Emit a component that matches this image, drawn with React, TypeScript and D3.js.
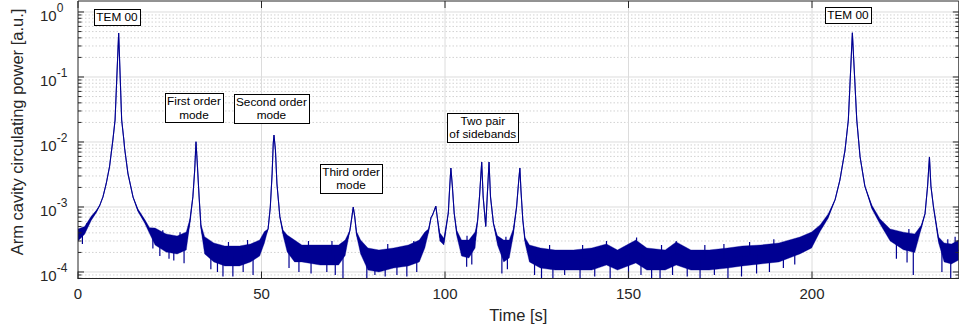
import * as d3 from 'd3'
import { useRef, useEffect } from 'react'

const W = 959, H = 333
const M = { top: 1, right: 0.2, bottom: 54.5, left: 78 }
const FONT = 'Liberation Sans, Arial, sans-serif'
const INK = '#262626'
const BLUE = '#000092'

const xDomain = [0, 240]
const xTicks = [0, 50, 100, 150, 200]
const yDomain = [Math.pow(10, -4.1), Math.pow(10, 0.169)]
const yDecades = [-4, -3, -2, -1, 0]

// trace: [time s, lower edge, upper edge] in a.u.
const trace = [
  [0, 3.0e-4, 4.6e-4], [1.8, 3.8e-4, 5.0e-4], [3.6, 6.2e-4, 7.2e-4], [5.0, 8.2e-4, 8.9e-4],
  [5.9, 1.05e-3, 1.05e-3], [6.8, 1.43e-3, 1.43e-3], [7.7, 2.3e-3, 2.3e-3], [8.6, 4.2e-3, 4.2e-3],
  [9.5, 0.0107, 0.0107], [10.1, 0.0218, 0.0218], [11.08, 0.475, 0.475], [11.9, 0.0218, 0.0218],
  [12.5, 0.0107, 0.0107], [12.7, 8.0e-3, 8.0e-3], [13.6, 3.3e-3, 3.3e-3], [15.0, 1.42e-3, 1.42e-3],
  [16.3, 8.6e-4, 9.4e-4], [18.2, 5.6e-4, 6.4e-4], [19.5, 3.9e-4, 4.8e-4], [21, 2.6e-4, 4.75e-4],
  [24, 2.03e-4, 3.85e-4], [27, 1.89e-4, 3.58e-4], [29.5, 2.18e-4, 4.12e-4], [30.5, 5.6e-4, 6.6e-4],
  [31.3, 1.43e-3, 1.43e-3], [31.8, 3.7e-3, 3.7e-3], [32.15, 0.0101, 0.0101], [32.5, 4.7e-3, 4.7e-3],
  [33.0, 1.43e-3, 1.43e-3], [33.5, 4.6e-4, 5.4e-4], [34.5, 1.9e-4, 3.5e-4], [37, 1.43e-4, 2.8e-4],
  [40, 1.24e-4, 2.51e-4], [44, 1.24e-4, 2.51e-4], [47, 1.43e-4, 2.7e-4], [49.5, 1.76e-4, 3.1e-4],
  [50.8, 2.8e-4, 4.2e-4], [51.8, 4.6e-4, 4.6e-4], [52.4, 1.0e-3, 1.0e-3], [52.9, 3.3e-3, 3.3e-3],
  [53.2, 9.5e-3, 9.5e-3], [53.4, 0.0128, 0.0128], [53.8, 7.5e-3, 7.5e-3], [54.2, 2.3e-3, 2.3e-3],
  [55.0, 7.1e-4, 7.1e-4], [55.9, 3.6e-4, 4.4e-4], [57, 2.03e-4, 3.7e-4], [59, 1.43e-4, 3.1e-4],
  [61, 1.43e-4, 2.6e-4], [66, 1.28e-4, 2.6e-4], [71, 1.28e-4, 2.6e-4], [72.8, 1.8e-4, 3.1e-4],
  [74.1, 4.4e-4, 4.4e-4], [74.7, 7.5e-4, 7.5e-4], [75.0, 1.0e-3, 1.0e-3], [75.4, 7.1e-4, 7.1e-4],
  [75.9, 3.6e-4, 4.2e-4], [77, 1.9e-4, 3.1e-4], [79, 1.07e-4, 2.34e-4], [82, 1.0e-4, 2.18e-4],
  [86, 1.15e-4, 2.34e-4], [90, 1.24e-4, 2.6e-4], [93, 1.43e-4, 3.1e-4], [94.5, 2.34e-4, 4.12e-4],
  [95.5, 4.0e-4, 4.6e-4], [96.2, 6.9e-4, 6.9e-4], [96.6, 7.5e-4, 7.5e-4], [97.5, 1.03e-3, 1.03e-3],
  [97.9, 6.9e-4, 6.9e-4], [98.6, 3.0e-4, 4.0e-4], [99.7, 2.6e-4, 3.3e-4], [100.9, 8.1e-4, 8.1e-4],
  [101.3, 2.1e-3, 2.1e-3], [101.6, 3.98e-3, 3.98e-3], [102.0, 2.1e-3, 2.1e-3], [102.5, 8.1e-4, 8.1e-4],
  [103.2, 3.6e-4, 4.4e-4], [104.5, 1.76e-4, 3.1e-4], [106.5, 1.64e-4, 3.1e-4], [108.2, 2.34e-4, 4.12e-4],
  [108.9, 6.3e-4, 6.3e-4], [109.4, 1.43e-3, 1.43e-3], [110.0, 4.92e-3, 4.92e-3], [110.4, 1.43e-3, 1.43e-3],
  [111.1, 5.0e-4, 5.0e-4], [111.5, 1.43e-3, 1.43e-3], [112.0, 4.92e-3, 4.92e-3], [112.4, 1.43e-3, 1.43e-3],
  [113.2, 5.6e-4, 5.6e-4], [114.3, 2.6e-4, 3.6e-4], [116, 1.43e-4, 3.1e-4], [117.5, 1.64e-4, 3.1e-4],
  [118.6, 3.6e-4, 4.6e-4], [119.5, 1.0e-3, 1.0e-3], [120.1, 2.6e-3, 2.6e-3], [120.4, 3.98e-3, 3.98e-3],
  [120.7, 1.8e-3, 1.8e-3], [121.2, 6.3e-4, 6.3e-4], [121.8, 2.8e-4, 3.4e-4], [123, 1.43e-4, 2.6e-4],
  [126, 1.15e-4, 2.34e-4], [130, 1.07e-4, 2.18e-4], [135, 1.07e-4, 2.18e-4], [140, 1.07e-4, 2.34e-4],
  [144, 1.28e-4, 2.7e-4], [147, 1.07e-4, 2.18e-4], [152, 1.38e-4, 3.1e-4], [155, 1.07e-4, 2.34e-4],
  [160, 1.07e-4, 2.18e-4], [163, 1.28e-4, 2.9e-4], [167, 1.07e-4, 2.18e-4], [172, 1.07e-4, 2.18e-4],
  [177, 1.15e-4, 2.34e-4], [181, 1.24e-4, 2.51e-4], [186, 1.33e-4, 2.6e-4], [191, 1.43e-4, 2.8e-4],
  [196.7, 1.9e-4, 3.45e-4], [199.9, 2.34e-4, 4.12e-4], [202.2, 4.2e-4, 5.3e-4], [204.4, 6.7e-4, 7.8e-4],
  [206.3, 1.3e-3, 1.3e-3], [207.6, 2.6e-3, 2.6e-3], [209.0, 7.5e-3, 7.5e-3], [209.9, 0.0218, 0.0218],
  [211.0, 0.48, 0.48], [212.2, 0.0218, 0.0218], [213.1, 5.9e-3, 5.9e-3], [214.4, 2.1e-3, 2.1e-3],
  [216.3, 9.4e-4, 1.07e-3], [218.5, 5.5e-4, 6.6e-4], [221.3, 3.0e-4, 4.6e-4], [224.9, 2.2e-4, 4.1e-4],
  [228, 2.0e-4, 3.85e-4], [229.8, 4.7e-4, 5.3e-4], [230.8, 7.9e-4, 7.9e-4], [231.5, 2.1e-3, 2.1e-3],
  [232.0, 5.88e-3, 5.88e-3], [232.4, 2.1e-3, 2.1e-3], [233.1, 1.0e-3, 1.0e-3], [234.5, 2.8e-4, 3.45e-4],
  [236, 1.43e-4, 2.8e-4], [238, 1.33e-4, 2.7e-4], [240, 1.53e-4, 3.1e-4],
]

// single noise spikes seen in the picture: [time s, value]
const dips = [
  [1.2, 2.7e-4], [20.4, 2.3e-4], [22.3, 1.76e-4], [24.8, 1.6e-4], [26.1, 1.5e-4], [28.9, 1.36e-4],
  [36.2, 1.1e-4], [38.0, 1.0e-4], [39.5, 8.5e-5], [42.2, 8.5e-5], [45.0, 1.0e-4], [47.7, 9.0e-5],
  [57.5, 1.15e-4], [60.2, 1.0e-4], [63.5, 9.5e-5], [67.8, 1.0e-4], [70.1, 9.0e-5], [72.2, 8.1e-5],
  [78.7, 8.1e-5], [80.9, 9.0e-5], [83.7, 8.5e-5], [86.9, 9.0e-5], [89.6, 8.5e-5], [92.3, 1.0e-4],
  [105.9, 1.2e-4], [107.3, 1.3e-4], [115.5, 9.5e-5], [117.0, 1.1e-4], [124.4, 9.0e-5], [126.3, 8.1e-5],
  [129.4, 8.1e-5], [132.6, 9.0e-5], [136.8, 8.1e-5], [140.8, 8.5e-5], [145, 8.1e-5], [150, 8.1e-5],
  [153.4, 9.0e-5], [156.3, 8.1e-5], [158.6, 8.1e-5], [162.0, 9.0e-5], [166.0, 8.5e-5], [169.5, 8.1e-5],
  [173.4, 9.0e-5], [177.1, 8.1e-5], [180.8, 8.5e-5], [184.9, 9.5e-5], [188.4, 1.0e-4], [192.2, 1.15e-4],
  [195.3, 1.3e-4], [223.0, 1.6e-4], [225.9, 1.4e-4], [227.6, 9.0e-5], [235.4, 1.0e-4], [237.8, 8.1e-5],
]
const bumps = [
  [2.4, 5.6e-4], [23.1, 4.4e-4], [27.8, 4.1e-4], [41.0, 2.9e-4], [46.2, 3.1e-4], [62.8, 3.0e-4],
  [69.2, 3.0e-4], [84.4, 2.7e-4], [91.5, 3.0e-4], [106.0, 3.6e-4], [116.6, 3.5e-4], [128.5, 2.6e-4],
  [137.5, 2.6e-4], [144, 3.0e-4], [152.2, 3.4e-4], [159.0, 2.6e-4], [163, 3.0e-4], [170.8, 2.6e-4],
  [176.0, 2.7e-4], [183.0, 2.9e-4], [189.6, 3.2e-4], [226.4, 4.6e-4], [237.0, 3.2e-4], [239.0, 3.5e-4],
]

const notes = [
  { lines: ['TEM 00'], t: 10.63, v: 0.838 },
  { lines: ['First order', 'mode'], t: 31.6, v: 0.0334 },
  { lines: ['Second order', 'mode'], t: 52.7, v: 0.0328 },
  { lines: ['Third order', 'mode'], t: 74.4, v: 2.77e-3 },
  { lines: ['Two pair', 'of sidebands'], t: 110.3, v: 0.0167 },
  { lines: ['TEM 00'], t: 209.8, v: 0.9 },
]

export default function App() {
  const svgRef = useRef(null)

  useEffect(() => {
    document.body.style.margin = '0'
    const svg = d3.select(svgRef.current)
    svg.selectAll('*').remove()

    const x0 = M.left, x1 = W - M.right, y0 = H - M.bottom, y1 = M.top
    const x = d3.scaleLinear().domain(xDomain).range([x0, x1])
    const y = d3.scaleLog().domain(yDomain).range([y0, y1])

    svg.append('defs').append('clipPath').attr('id', 'plot')
      .append('rect').attr('x', x0).attr('y', y1).attr('width', x1 - x0).attr('height', y0 - y1)

    // grid
    const minor = []
    for (let d = -5; d <= 0; d++) for (let k = 2; k <= 9; k++) {
      const v = k * Math.pow(10, d)
      if (v > yDomain[0] && v < yDomain[1]) minor.push(v)
    }
    const grid = svg.append('g')
    grid.selectAll('.mi').data(minor).join('line')
      .attr('x1', x0).attr('x2', x1).attr('y1', d => y(d)).attr('y2', d => y(d))
      .attr('stroke', '#d2d2d2').attr('stroke-width', 1).attr('stroke-dasharray', '1.5,2')
    grid.selectAll('.ma').data(yDecades).join('line')
      .attr('x1', x0).attr('x2', x1).attr('y1', d => y(Math.pow(10, d))).attr('y2', d => y(Math.pow(10, d)))
      .attr('stroke', '#dcdcdc').attr('stroke-width', 1)
    grid.selectAll('.vx').data(xTicks.slice(1)).join('line')
      .attr('x1', d => x(d)).attr('x2', d => x(d)).attr('y1', y0).attr('y2', y1)
      .attr('stroke', '#dcdcdc').attr('stroke-width', 1)

    // trace: noise band + line through its middle
    const plot = svg.append('g').attr('clip-path', 'url(#plot)')
    const mid = d => Math.sqrt(d[1] * d[2])
    plot.append('path').datum(trace)
      .attr('d', d3.area().x(d => x(d[0])).y0(d => y(d[1])).y1(d => y(d[2])))
      .attr('fill', BLUE).attr('stroke', BLUE).attr('stroke-width', 0.6).attr('stroke-opacity', 0.6)
    plot.append('path').datum(trace)
      .attr('d', d3.line().x(d => x(d[0])).y(d => y(mid(d))))
      .attr('fill', 'none').attr('stroke', BLUE).attr('stroke-width', 1.1)

    const bis = d3.bisector(d => d[0]).left
    const midAt = t => {
      const i = Math.max(1, bis(trace, t))
      const a = trace[i - 1], b = trace[i]
      const f = (t - a[0]) / (b[0] - a[0])
      return Math.exp(Math.log(mid(a)) * (1 - f) + Math.log(mid(b)) * f)
    }
    plot.selectAll('.dip').data(dips.concat(bumps)).join('line')
      .attr('x1', d => x(d[0])).attr('x2', d => x(d[0]))
      .attr('y1', d => y(midAt(d[0]))).attr('y2', d => y(d[1]))
      .attr('stroke', BLUE).attr('stroke-width', 1.2)

    // box
    svg.append('line').attr('x1', x0).attr('x2', x1).attr('y1', 1).attr('y2', 1).attr('stroke', INK)
    svg.append('line').attr('x1', x1).attr('x2', x1).attr('y1', y1).attr('y2', y0).attr('stroke', INK)
    svg.append('line').attr('x1', x0 - 0.5).attr('x2', x1).attr('y1', y0).attr('y2', y0).attr('stroke', INK)
    svg.append('line').attr('x1', x0).attr('x2', x0).attr('y1', y1).attr('y2', y0).attr('stroke', INK)

    // ticks
    const ax = svg.append('g').attr('stroke', INK).attr('stroke-width', 1)
    yDecades.forEach(d => {
      const yy = y(Math.pow(10, d))
      ax.append('line').attr('x1', x0).attr('x2', x0 + 6).attr('y1', yy).attr('y2', yy)
      ax.append('line').attr('x1', x1).attr('x2', x1 - 6).attr('y1', yy).attr('y2', yy)
    })
    minor.forEach(v => {
      ax.append('line').attr('x1', x0).attr('x2', x0 + 3.5).attr('y1', y(v)).attr('y2', y(v))
      ax.append('line').attr('x1', x1).attr('x2', x1 - 3.5).attr('y1', y(v)).attr('y2', y(v))
    })
    xTicks.forEach(t => {
      ax.append('line').attr('x1', x(t)).attr('x2', x(t)).attr('y1', y0).attr('y2', y0 - 7)
      ax.append('line').attr('x1', x(t)).attr('x2', x(t)).attr('y1', y1).attr('y2', y1 + 7)
    })

    // tick labels
    const lab = svg.append('g').attr('font-family', FONT).attr('fill', INK)
    yDecades.forEach(d => {
      const yy = y(Math.pow(10, d))
      const t = lab.append('text').attr('x', 40).attr('y', yy + 9.5).attr('font-size', 15)
      t.append('tspan').text('10')
      t.append('tspan').attr('dy', -9).attr('font-size', 12).text(String(d))
    })
    xTicks.forEach(t => {
      lab.append('text').attr('x', x(t)).attr('y', y0 + 20.5).attr('text-anchor', 'middle')
        .attr('font-size', 15).text(String(t))
    })
    lab.append('text').attr('x', (x0 + x1) / 2).attr('y', 321).attr('text-anchor', 'middle')
      .attr('font-size', 16.5).text('Time [s]')
    lab.append('text').attr('transform', 'translate(22.5,132) rotate(-90)').attr('text-anchor', 'middle')
      .attr('font-size', 16.5).text('Arm cavity circulating power [a.u.]')

    // annotations
    notes.forEach(n => {
      const g = svg.append('g')
      const cx = x(n.t), cy = y(n.v)
      const lh = 13.3
      const rect = g.append('rect').attr('fill', '#fff').attr('stroke', '#000').attr('stroke-width', 1)
      const txt = g.append('text').attr('font-family', FONT).attr('font-size', 11.8)
        .attr('fill', '#000').attr('text-anchor', 'middle')
      n.lines.forEach((s, i) => {
        txt.append('tspan').attr('x', cx)
          .attr('y', cy + 4 + (i - (n.lines.length - 1) / 2) * lh).text(s)
      })
      const bb = txt.node().getBBox()
      rect.attr('x', Math.round(bb.x - 2) + 0.5).attr('y', Math.round(bb.y - 1) + 0.5)
        .attr('width', Math.round(bb.width + 4)).attr('height', Math.round(bb.height + 2))
    })
  }, [])

  return (
    <svg ref={svgRef} width={W} height={H} viewBox={'0 0 ' + W + ' ' + H}
      style={{ display: 'block', background: '#fff' }} />
  )
}
